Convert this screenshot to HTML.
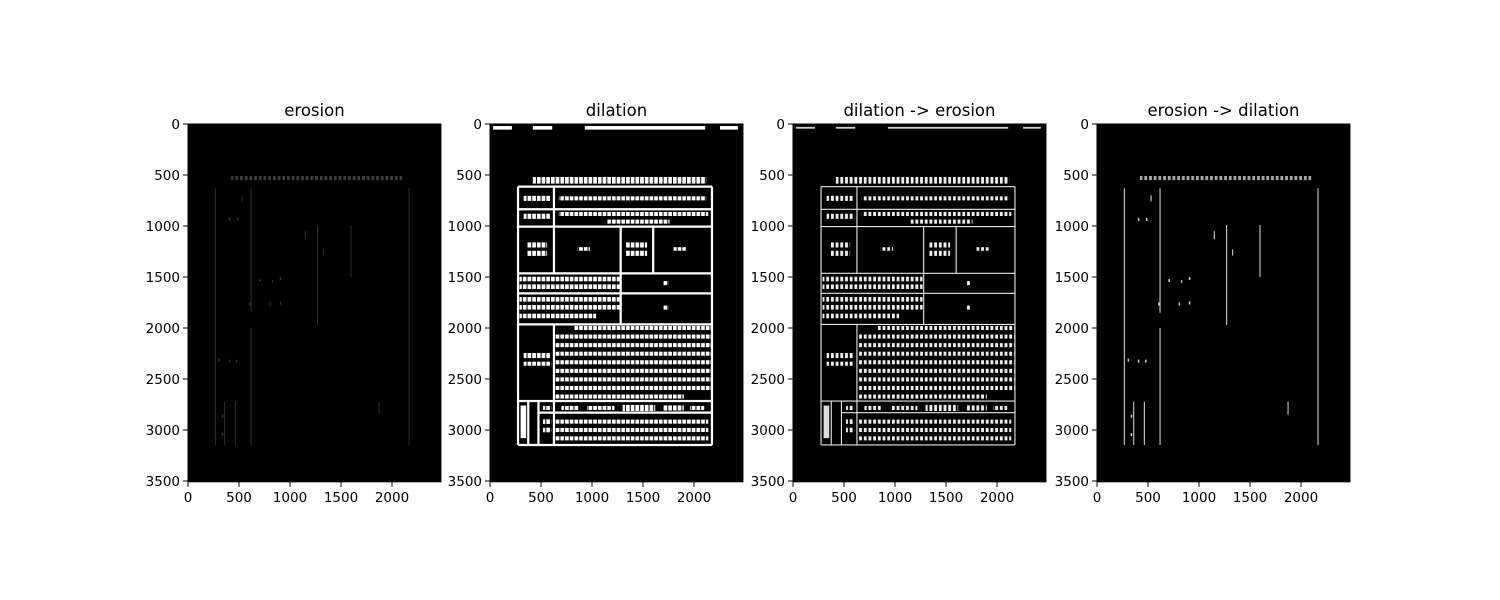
<!DOCTYPE html>
<html><head><meta charset="utf-8"><style>
html,body{margin:0;padding:0;background:#fff;}
svg{display:block;font-family:"DejaVu Sans","Liberation Sans",sans-serif;}
</style></head><body>
<svg id="fig" width="1500" height="600" viewBox="0 0 1500 600" xmlns="http://www.w3.org/2000/svg">
<defs>
<pattern id="txtD" patternUnits="userSpaceOnUse" width="46" height="200"><rect x="0" y="0" width="36" height="200" fill="#fff"/></pattern>
<pattern id="txtE" patternUnits="userSpaceOnUse" width="46" height="200"><rect x="4" y="0" width="28" height="200" fill="#eee"/></pattern>
</defs>
<g id="panels"></g>
</svg>
<script>
// image extent (data units)
const imgW = 2480, imgH = 3508;
const titles = ["erosion","dilation","dilation -> erosion","erosion -> dilation"];
const panelLeft = [188, 490, 793, 1097];
const yTicks = [0,500,1000,1500,2000,2500,3000,3500];
const xTicks = [0,500,1000,1500,2000];
// form table lines [x1,y1,x2,y2]
const formLines = [
 [275,614,2176,614],[275,836,2176,836],[275,1006,2176,1006],[275,1464,2176,1464],
 [275,1660,2176,1660],[275,1965,2176,1965],[275,2716,2176,2716],[475,2830,2176,2830],[275,3147,2176,3147],
 [275,614,275,3147],[2176,614,2176,3147],[627,614,627,1464],[627,1965,627,3147],
 [1281,1006,1281,1965],[1600,1006,1600,1464],[375,2716,375,3147],[475,2716,475,3147]
];
// text rows [x1,x2,yCenter,height]
const textRows = [
 [420,2120,552,65],[330,590,729,50],[675,2120,729,40],[330,590,905,50],[675,2140,882,40],[1150,1760,957,40],
 [360,560,1186,50],[360,560,1268,50],[860,980,1225,35],[1330,1540,1186,50],[1330,1540,1268,50],[1800,1920,1225,35],
 [290,1270,1520,45],[290,1270,1595,45],[1700,1750,1560,40],
 [290,1270,1719,45],[290,1270,1797,45],[290,1040,1882,45],[1700,1750,1800,40],
 [820,2170,2000,40],[640,2170,2084,40],[640,2170,2168,40],[640,2170,2252,40],[640,2170,2336,40],
 [640,2170,2420,40],[640,2170,2504,40],[640,2170,2588,40],[640,1900,2672,40],
 [330,590,2270,50],[330,600,2350,40],
 [520,600,2784,40],[700,870,2784,40],[950,1220,2784,40],[1300,1620,2784,60],[1700,1900,2784,50],[1960,2100,2784,40],
 [640,2140,2918,40],[640,2140,3000,40],[640,2140,3082,40],[520,600,2918,45],[520,600,3000,45]
];
// top edge blobs in dilated images [x1,x2]
const topBlobs = [[30,215],[420,610],[930,2110],[2255,2430]];
// thin lines surviving erosion [x1,y1,x2,y2]
const erodedLines = [
 [268,630,268,3147],[618,630,618,1850],[618,2000,618,3147],[1271,990,1271,1970],[1598,990,1598,1500],
 [2167,630,2167,3147],[360,2722,360,3147],[464,2722,464,3147],[1873,2722,1873,2850],
 [530,700,530,760],[1150,1050,1150,1130],[1330,1230,1330,1290],[830,1530,830,1560]
];
// small specks [x,y]
const specks = [[400,920],[480,920],[700,1520],[900,1500],[600,1750],[800,1750],[900,1740],[300,2300],[400,2310],[470,2310],[330,2850],[330,3030]];
const sc = 0.102, topY = 124;
const NS = "http://www.w3.org/2000/svg";
const root = document.getElementById('panels');
function mk(tag, at, parent){const e=document.createElementNS(NS,tag);for(const k in at)e.setAttribute(k,at[k]);parent.appendChild(e);return e;}
titles.forEach((t,i)=>{
  const x0 = panelLeft[i];
  const g = mk('g',{},root);
  
  
  const bg = mk('rect',{x:x0,y:topY,width:imgW*sc,height:imgH*sc,fill:'#000'},g);
  
  
  const img = mk('g',{transform:`translate(${x0},${topY}) scale(${sc})`},g);
  if(i===1||i===2){
    const dil = i===1;
    topBlobs.forEach(b=>{mk('rect',{x:b[0],y:dil?20:28,width:b[1]-b[0],height:dil?35:18,fill:dil?'#fff':'#ccc'},img);});
    formLines.forEach(l=>{mk('line',{x1:l[0],y1:l[1],x2:l[2],y2:l[3],stroke:dil?'#fff':'#e6e6e6','stroke-width':dil?22:11},img);});
    textRows.forEach(r=>{mk('rect',{x:r[0],y:r[2]-r[3]/2,width:r[1]-r[0],height:r[3],fill:dil?'url(#txtD)':'url(#txtE)'},img);});
    mk('rect',{x:300,y:2760,width:55,height:320,fill:dil?'#fff':'#ddd'},img);
  } else {
    const bright = i===3;
    erodedLines.forEach(l=>{mk('line',{x1:l[0],y1:l[1],x2:l[2],y2:l[3],stroke:bright?'#ddd':'#3a3a3a','stroke-width':bright?10:8},img);});
    mk('rect',{x:420,y:510,width:1680,height:40,fill:'url(#txtE)',opacity:bright?0.7:0.25},img);
    specks.forEach(p=>{mk('rect',{x:p[0],y:p[1],width:15,height:30,fill:bright?'#ccc':'#333'},img);});
  }
  mk('rect',{x:x0,y:topY,width:imgW*sc,height:imgH*sc,fill:'none',stroke:'#000','stroke-width':1},g);
  const tt = mk('text',{x:x0+imgW*sc/2,y:topY-8,'text-anchor':'middle','font-size':'16.5'},g);
  tt.textContent = t;
  
  
  yTicks.forEach(v=>{
    const y = topY + v*sc;
    mk('line',{x1:x0-5,y1:y,x2:x0,y2:y,stroke:'#000','stroke-width':1},g);
    const lb = mk('text',{x:x0-8,y:y+5,'text-anchor':'end','font-size':'13.5'},g);
    lb.textContent = v;
    
    
  });
  xTicks.forEach(v=>{
    const x = x0 + v*sc, yb = topY+imgH*sc;
    mk('line',{x1:x,y1:yb,x2:x,y2:yb+5,stroke:'#000','stroke-width':1},g);
    const lb = mk('text',{x:x,y:yb+20,'text-anchor':'middle','font-size':'13.5'},g);
    lb.textContent = v;
    
    
  });
});
</script>
</body></html>
